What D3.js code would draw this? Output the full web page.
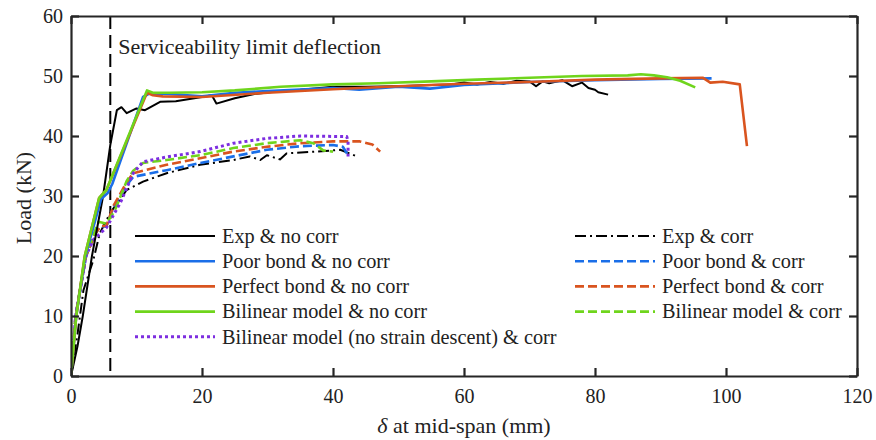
<!DOCTYPE html>
<html>
<head>
<meta charset="utf-8">
<script src="https://cdn.jsdelivr.net/npm/d3@7"></script>
<style>
  body { margin: 0; background: #fff; }
  text { font-family: "Liberation Serif", "Times New Roman", serif; fill: #222; }
</style>
</head>
<body>
<div class="chart"></div>
<script>
// data: [deflection (mm), load (kN)]
var expNoCorr = [[0,0],[1,5],[1.8,10],[3.2,20],[4.9,30],[6,38.5],[7,44.3],[7.7,44.8],[8.5,43.8],[10,44.6],[11.3,44.3],[13.6,45.7],[16,45.8],[20,46.5],[21.5,46.8],[22.2,45.4],[25,46.3],[28,47],[32,47.5],[35,47.7],[38,48],[40,48.2],[45,48.2],[50,48.3],[55,48.5],[58,48.6],[60,48.9],[62,48.6],[64,49],[66,48.7],[68,49.2],[70,49.1],[71,48.3],[72,49.1],[73,48.8],[75,49.3],[76.5,48.3],[78,48.9],[79,48],[80,47.7],[80.5,47.3],[82,46.9]];
var poorNoCorr = [[0,0],[0.8,10],[2.2,20],[4.6,29.5],[5.6,30.5],[6.3,32],[11,46.5],[12,47.1],[15,47],[20,46.6],[25,47.2],[30,47.5],[40,48],[44,47.7],[50,48.2],[54.8,47.9],[60,48.5],[70,49],[80,49.3],[90,49.5],[97.8,49.6]];
var perfNoCorr = [[0,0],[0.8,10],[2.1,20],[4.3,29.7],[5.4,31],[11.6,47.2],[12.5,46.8],[14,46.6],[20,46.5],[30,47.2],[40,47.8],[50,48.3],[60,48.7],[70,49],[80,49.4],[90,49.6],[96.5,49.7],[97.6,48.9],[99.5,49.05],[102.1,48.6],[103.2,38.3]];
var biliNoCorr = [[0,0],[0.8,10],[2.1,20],[4.3,29.7],[5.4,31],[11.6,47.6],[12.5,47.2],[15,47.2],[20,47.3],[25,47.6],[32,48.2],[40,48.6],[47,48.8],[55,49.1],[62,49.4],[70,49.7],[78,50],[85,50.1],[87,50.3],[89,50.1],[91,49.8],[93,49.2],[95.3,48.1]];
var expCorr = [[0,0],[1,7],[1.9,14.3],[3.4,19.3],[4.4,23.8],[6,27.2],[8.5,31],[11,32.4],[14.6,33.8],[19.7,35.2],[24.8,36],[27.3,36.6],[28.9,36],[29.9,36.8],[31.9,36.1],[32.9,37.1],[37.5,37.4],[41.1,37.7],[43.9,36.5]];
var poorCorr = [[0,0],[0.7,10],[2.3,20],[3.6,23.5],[4.5,25],[5.4,24.9],[6.5,28.2],[8.5,31.8],[9.5,33.2],[14.6,34.3],[19.7,35.5],[24.8,36.6],[29.9,37.7],[35,38.3],[40,38.5],[41.5,38.2],[42.3,36.8]];
var perfCorr = [[0,0],[0.7,10],[2.3,20],[3.6,23.5],[4.5,25],[5.4,25],[6.5,28.4],[8.5,32.3],[9.5,33.8],[14.6,35.2],[19.7,36.3],[24.8,37.4],[29.9,38.2],[35,38.8],[40,39.1],[44.1,39.1],[46,38.6],[47.2,37.4]];
var biliCorr = [[0,0],[0.7,10],[2.2,20],[4.2,25.7],[5.4,25.4],[6.7,27.6],[8.5,32.5],[9.5,34.2],[11,35.5],[14.6,36],[19.7,36.8],[24.8,38],[29.9,38.8],[35,39.3],[37,38.8],[38.5,37.6],[40,37.4]];
var biliNoDescCorr = [[0,0],[0.7,10],[2.3,20],[3.4,22.7],[5.4,24.7],[7.5,28.8],[9.5,33.8],[11,35.7],[14.6,36.5],[19.7,37.4],[24.8,38.8],[29.9,39.6],[35,40],[42.1,39.9],[42.3,39.1],[42.3,36.6]];

var xTicks = [0, 20, 40, 60, 80, 100, 120];
var yTicks = [0, 10, 20, 30, 40, 50, 60];
var serviceLimit = 6;

var series = [
  {name: "Exp & no corr", data: expNoCorr, color: "#000000", width: 2, dash: null, col: 0},
  {name: "Poor bond & no corr", data: poorNoCorr, color: "#1a6ee8", width: 2.6, dash: null, col: 0},
  {name: "Perfect bond & no corr", data: perfNoCorr, color: "#d9541f", width: 2.6, dash: null, col: 0},
  {name: "Bilinear model & no corr", data: biliNoCorr, color: "#6fd51c", width: 2.6, dash: null, col: 0},
  {name: "Bilinear model (no strain descent) & corr", data: biliNoDescCorr, color: "#7d2ee0", width: 3, dash: "3,3", col: 0},
  {name: "Exp & corr", data: expCorr, color: "#000000", width: 2, dash: "11,4,2,4", col: 1},
  {name: "Poor bond & corr", data: poorCorr, color: "#1a6ee8", width: 2.6, dash: "9,4", col: 1},
  {name: "Perfect bond & corr", data: perfCorr, color: "#d9541f", width: 2.6, dash: "9,4", col: 1},
  {name: "Bilinear model & corr", data: biliCorr, color: "#6fd51c", width: 2.6, dash: "9,4", col: 1}
];

// drawing order: corroded first, no-corr on top
var drawOrder = [5, 6, 7, 8, 4, 0, 1, 2, 3];

var svgWidth = 876;
var svgHeight = 440;
var margin = {top: 16, right: 19, bottom: 64, left: 71};
var width = svgWidth - margin.left - margin.right;
var height = svgHeight - margin.top - margin.bottom;

var svg = d3.select(".chart")
  .append("svg")
  .attr("width", svgWidth)
  .attr("height", svgHeight);
var chart = svg.append("g")
  .attr("transform", "translate(" + margin.left + "," + margin.top + ")");

var x = d3.scaleLinear().domain([0, 120]).range([0, width]);
var y = d3.scaleLinear().domain([0, 60]).range([height, 0]);

chart.append("clipPath").attr("id", "clip")
  .append("rect").attr("x", 0).attr("y", 0).attr("width", width).attr("height", height);

var line = d3.line()
  .x(function(d) { return x(d[0]); })
  .y(function(d) { return y(d[1]); });

var plot = chart.append("g").attr("clip-path", "url(#clip)");

// serviceability limit
plot.append("line")
  .attr("x1", x(serviceLimit)).attr("x2", x(serviceLimit))
  .attr("y1", y(60)).attr("y2", y(0))
  .attr("stroke", "#000").attr("stroke-width", 2)
  .attr("stroke-dasharray", "13,6");

drawOrder.forEach(function(i) {
  var s = series[i];
  plot.append("path")
    .datum(s.data)
    .attr("d", line)
    .attr("fill", "none")
    .attr("stroke", s.color)
    .attr("stroke-width", s.width)
    .attr("stroke-linejoin", "round")
    .attr("stroke-dasharray", s.dash);
});

chart.append("text")
  .attr("x", x(serviceLimit) + 8)
  .attr("y", 38)
  .style("font-size", "22px")
  .text("Serviceability limit deflection");

// axes (box with inward ticks)
var axisColor = "#262626";
var xAxis = chart.append("g").attr("transform", "translate(0," + height + ")")
  .call(d3.axisBottom(x).tickValues(xTicks).tickSize(-8).tickPadding(14).tickSizeOuter(0));
var yAxis = chart.append("g")
  .call(d3.axisLeft(y).tickValues(yTicks).tickSize(-8).tickPadding(14).tickSizeOuter(0));
var xTop = chart.append("g")
  .call(d3.axisTop(x).tickValues(xTicks).tickSize(-8).tickFormat("").tickSizeOuter(0));
var yRight = chart.append("g").attr("transform", "translate(" + width + ",0)")
  .call(d3.axisRight(y).tickValues(yTicks).tickSize(-8).tickFormat("").tickSizeOuter(0));

[xAxis, yAxis, xTop, yRight].forEach(function(g) {
  g.select(".domain").attr("stroke", axisColor).attr("stroke-width", 2.2);
  g.selectAll(".tick line").attr("stroke", axisColor).attr("stroke-width", 2.2);
  g.selectAll(".tick text")
    .style("font-family", "'Liberation Serif', serif")
    .style("font-size", "20px")
    .attr("fill", "#222");
});
xAxis.selectAll(".tick text").attr("dy", "0.71em").attr("y", 13);
yAxis.selectAll(".tick text").attr("x", -8);

// axis labels
chart.append("text")
  .attr("transform", "rotate(-90)")
  .attr("x", -height / 2 - 2)
  .attr("y", -40)
  .style("text-anchor", "middle")
  .style("font-size", "22px")
  .text("Load (kN)");

var xl = chart.append("text")
  .attr("x", width / 2)
  .attr("y", height + 57)
  .style("text-anchor", "middle")
  .style("font-size", "22px");
xl.append("tspan").style("font-style", "italic").text("δ");
xl.append("tspan").text(" at mid-span (mm)");

// legend
var legX = [64, 504];
var legY0 = 220;
var legStep = 25.2;
var rows = [0, 0];
series.forEach(function(s) {
  var r = rows[s.col]++;
  var g = chart.append("g")
    .attr("transform", "translate(" + legX[s.col] + "," + (legY0 + r * legStep) + ")");
  g.append("line")
    .attr("x1", 0).attr("x2", 80).attr("y1", 0).attr("y2", 0)
    .attr("stroke", s.color)
    .attr("stroke-width", s.width)
    .attr("stroke-dasharray", s.dash);
  g.append("text")
    .attr("x", 87)
    .attr("y", 0)
    .attr("dy", "0.33em")
    .style("font-size", "20.3px")
    .text(s.name);
});
</script>
</body>
</html>
